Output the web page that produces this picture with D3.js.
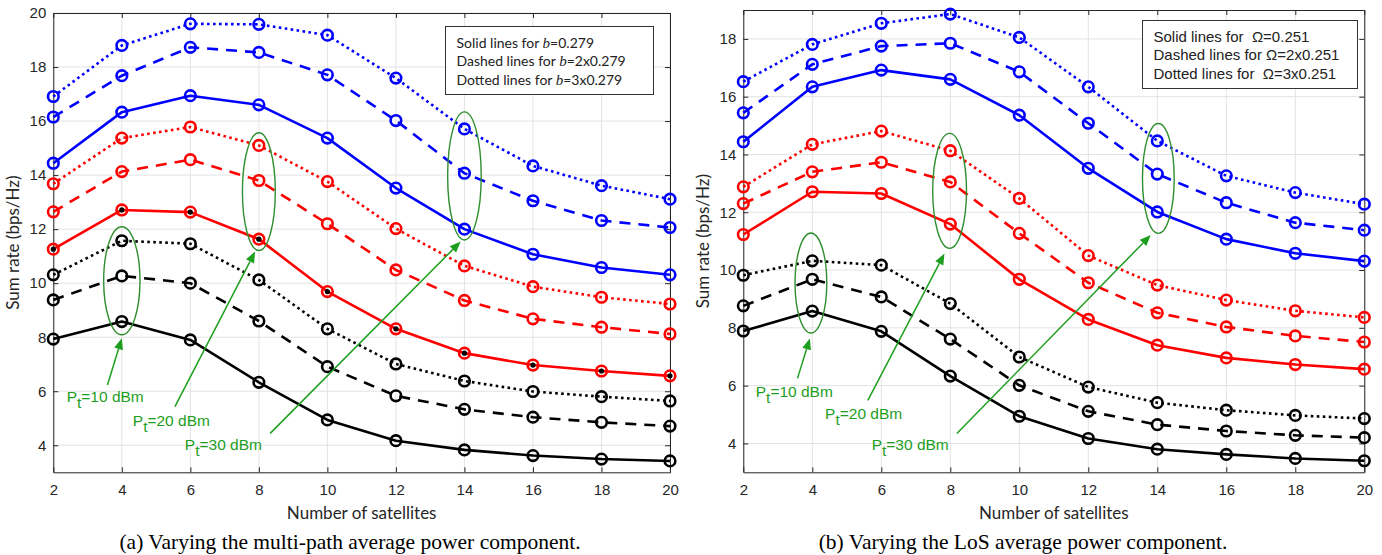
<!DOCTYPE html>
<html><head><meta charset="utf-8">
<script src="https://cdn.jsdelivr.net/npm/d3@7"></script>
<style>body{margin:0;background:#fff}svg{display:block}</style>
</head><body>
<svg id="c" width="1382" height="555"></svg>
<script>
// ---------- DATA ----------
const satellites = [2,4,6,8,10,12,14,16,18,20];
const xTicks = [2,4,6,8,10,12,14,16,18,20];
const yTicksA = [4,6,8,10,12,14,16,18,20];
const yTicksB = [4,6,8,10,12,14,16,18];

// (a) multi-path average power component b
const a_blue_dotted  = [16.91,18.80,19.60,19.58,19.18,17.59,15.71,14.34,13.61,13.11];
const a_blue_dashed  = [16.15,17.68,18.73,18.54,17.71,16.02,14.07,13.05,12.32,12.06];
const a_blue_solid   = [14.44,16.33,16.94,16.60,15.37,13.52,12.00,11.07,10.58,10.31];
const a_red_dotted   = [13.68,15.37,15.78,15.10,13.76,12.02,10.64,9.87,9.48,9.23];
const a_red_dashed   = [12.64,14.13,14.57,13.80,12.20,10.49,9.36,8.68,8.37,8.12];
const a_red_solid    = [11.26,12.71,12.63,11.63,9.69,8.31,7.41,6.97,6.75,6.57];
const a_black_dotted = [10.31,11.57,11.46,10.12,8.31,7.01,6.38,5.99,5.80,5.64];
const a_black_dashed = [9.38,10.27,10.00,8.60,6.91,5.83,5.33,5.04,4.85,4.71];
const a_black_solid  = [7.93,8.58,7.90,6.33,4.94,4.17,3.83,3.62,3.49,3.42];

// (b) LoS average power component Omega
const b_blue_dotted  = [16.52,17.81,18.54,18.86,18.05,16.34,14.47,13.26,12.68,12.28];
const b_blue_dashed  = [15.44,17.12,17.75,17.85,16.86,15.08,13.32,12.33,11.64,11.38];
const b_blue_solid   = [14.44,16.34,16.92,16.60,15.36,13.52,12.01,11.07,10.58,10.31];
const b_red_dotted   = [12.88,14.35,14.81,14.13,12.48,10.50,9.48,8.96,8.59,8.36];
const b_red_dashed   = [12.30,13.40,13.73,13.05,11.27,9.56,8.52,8.03,7.72,7.51];
const b_red_solid    = [11.23,12.71,12.65,11.59,9.68,8.29,7.40,6.96,6.73,6.57];
const b_black_dotted = [9.82,10.32,10.17,8.84,6.99,5.95,5.41,5.15,4.97,4.86];
const b_black_dashed = [8.76,9.68,9.07,7.61,6.01,5.11,4.65,4.43,4.28,4.20];
const b_black_solid  = [7.89,8.58,7.88,6.33,4.94,4.17,3.80,3.62,3.48,3.40];

const legendA = [["Solid lines for ","b","=0.279"],["Dashed lines for ","b","=2x0.279"],["Dotted lines for ","b","=3x0.279"]];
const legendB = [["Solid lines for  ","Ω","=0.251"],["Dashed lines for ","Ω","=2x0.251"],["Dotted lines for  ","Ω","=3x0.251"]];
const ptLabels = ["10","20","30"];
const captionA = "(a) Varying the multi-path average power component.";
const captionB = "(b) Varying the LoS average power component.";
const xLabel = "Number of satellites";
const yLabel = "Sum rate (bps/Hz)";

// ---------- PANELS ----------
const svg = d3.select("#c");
const green1 = "#2f8f2f", green2 = "#1e9e1e";

function series(prefix, D, redFilled){
  return [
    {v:D[prefix+"blue_dotted"], c:"#0000ff", s:"dot"},
    {v:D[prefix+"blue_dashed"], c:"#0000ff", s:"dash"},
    {v:D[prefix+"blue_solid"], c:"#0000ff", s:"solid"},
    {v:D[prefix+"red_dotted"], c:"#ff0000", s:"dot"},
    {v:D[prefix+"red_dashed"], c:"#ff0000", s:"dash"},
    {v:D[prefix+"red_solid"], c:"#ff0000", s:"solid", filled:redFilled},
    {v:D[prefix+"black_dotted"], c:"#000000", s:"dot"},
    {v:D[prefix+"black_dashed"], c:"#000000", s:"dash"},
    {v:D[prefix+"black_solid"], c:"#000000", s:"solid"}
  ];
}
const D = {a_blue_dotted,a_blue_dashed,a_blue_solid,a_red_dotted,a_red_dashed,a_red_solid,a_black_dotted,a_black_dashed,a_black_solid,
           b_blue_dotted,b_blue_dashed,b_blue_solid,b_red_dotted,b_red_dashed,b_red_solid,b_black_dotted,b_black_dashed,b_black_solid};

const panels = [
  {x0:53.3, x1:670, y0:13, y1:472.3, ymin:3, ymax:20, yt:yTicksA, ser:series("a_",D,true),
   legend:legendA, legBox:[445.5,26.5,208,68], legFont:"Lato", legSize:14, legItalic:true,
   ell:[[4,10.09,0.53,2.0],[8,13.39,0.48,2.18],[14,13.97,0.49,2.37]],
   arr:[[3.58,6.23,4.0,7.96],[5.55,5.43,7.89,11.17],[8.33,4.44,13.89,11.54]],
   lab:[[2.39,5.61],[4.32,4.73],[5.84,3.83]], caption:captionA, capX:350},
  {x0:743.3, x1:1364.3, y0:10, y1:472.3, ymin:3, ymax:19, yt:yTicksB, ser:series("b_",D,false),
   legend:legendB, legBox:[1142.5,20.5,215,68], legFont:"Liberation Sans", legSize:15, legItalic:false,
   ell:[[3.96,9.55,0.46,1.73],[7.98,12.74,0.49,1.99],[14.03,13.17,0.46,1.9]],
   arr:[[3.57,6.25,3.93,7.63],[5.61,5.49,7.83,10.57],[8.19,4.34,13.81,11.21]],
   lab:[[2.36,5.61],[4.37,4.86],[5.72,3.76]], caption:captionB, capX:1023}
];

panels.forEach((P,pi)=>{
  const x = d3.scaleLinear().domain([2,20]).range([P.x0,P.x1]);
  const y = d3.scaleLinear().domain([P.ymin,P.ymax]).range([P.y1,P.y0]);
  const g = svg.append("g");
  // grid
  g.append("g").selectAll("line").data(xTicks).join("line")
    .attr("x1",d=>x(d)).attr("x2",d=>x(d)).attr("y1",P.y0).attr("y2",P.y1)
    .attr("stroke","#e3e3e3").attr("stroke-width",1);
  g.append("g").selectAll("line").data(P.yt).join("line")
    .attr("y1",d=>y(d)).attr("y2",d=>y(d)).attr("x1",P.x0).attr("x2",P.x1)
    .attr("stroke","#e3e3e3").attr("stroke-width",1);
  // axes
  const ax = d3.axisBottom(x).tickValues(xTicks).tickSizeInner(-5).tickSizeOuter(0).tickPadding(12);
  const axT = d3.axisTop(x).tickValues(xTicks).tickSizeInner(-5).tickSizeOuter(0).tickFormat("");
  const ay = d3.axisLeft(y).tickValues(P.yt).tickSizeInner(-5).tickSizeOuter(0).tickPadding(7);
  const ayR = d3.axisRight(y).tickValues(P.yt).tickSizeInner(-5).tickSizeOuter(0).tickFormat("");
  [[ax,`translate(0,${P.y1})`],[axT,`translate(0,${P.y0})`],[ay,`translate(${P.x0},0)`],[ayR,`translate(${P.x1},0)`]].forEach(([a,t])=>{
    const gg = g.append("g").attr("transform",t).call(a);
    gg.attr("font-size",15).attr("font-family","Liberation Sans, Arial");
    gg.select(".domain").attr("stroke","#262626").attr("stroke-width",1);
    gg.selectAll(".tick line").attr("stroke","#262626");
    gg.selectAll("text").attr("fill","#262626");
  });
  // lines
  const line = d3.line().x((d,i)=>x(satellites[i])).y(d=>y(d));
  P.ser.forEach(s=>{
    const p = g.append("path").datum(s.v).attr("d",line).attr("fill","none")
      .attr("stroke",s.c).attr("stroke-width",2.6).attr("stroke-linejoin","round");
    if(s.s==="dash") p.attr("stroke-dasharray","11,8");
    if(s.s==="dot") p.attr("stroke-dasharray","2.6,3.4");
  });
  P.ser.forEach(s=>{
    g.append("g").selectAll("circle").data(s.v).join("circle")
      .attr("cx",(d,i)=>x(satellites[i])).attr("cy",d=>y(d)).attr("r",5.3)
      .attr("fill","none").attr("stroke",s.c).attr("stroke-width",2.6);
    if(s.filled){
      g.append("g").selectAll("circle").data(s.v).join("circle")
        .attr("cx",(d,i)=>x(satellites[i])).attr("cy",d=>y(d)).attr("r",2.6).attr("fill","#000");
    }
  });
  // legend
  const [lx,ly,lw,lh] = P.legBox;
  g.append("rect").attr("x",lx).attr("y",ly).attr("width",lw).attr("height",lh)
    .attr("fill","#fff").attr("stroke","#333").attr("stroke-width",1);
  P.legend.forEach((parts,i)=>{
    const t = g.append("text").attr("x",lx+11).attr("y",ly+21+i*18.5)
      .attr("font-family",P.legFont).attr("font-size",P.legSize).attr("fill","#222")
      .attr("xml:space","preserve").style("white-space","pre");
    t.append("tspan").text(parts[0]);
    const sym = t.append("tspan").text(parts[1]);
    if(P.legItalic) sym.attr("font-family","Liberation Serif, Times New Roman").attr("font-style","italic").attr("font-size",P.legSize+1);
    t.append("tspan").text(parts[2]);
  });
  // ellipses
  P.ell.forEach(e=>{
    g.append("ellipse").attr("cx",x(e[0])).attr("cy",y(e[1]))
      .attr("rx",x(e[0]+e[2])-x(e[0])).attr("ry",y(e[1]-e[3])-y(e[1]))
      .attr("fill","none").attr("stroke",green1).attr("stroke-width",1.4);
  });
  // arrows
  P.arr.forEach(a=>{
    const xa=x(a[0]), ya=y(a[1]), xb=x(a[2]), yb=y(a[3]);
    const ang = Math.atan2(yb-ya, xb-xa), L=11, W=4.5;
    const bx = xb - L*Math.cos(ang), by = yb - L*Math.sin(ang);
    g.append("line").attr("x1",xa).attr("y1",ya).attr("x2",bx).attr("y2",by)
      .attr("stroke",green2).attr("stroke-width",1.5);
    const nx = -Math.sin(ang), ny = Math.cos(ang);
    g.append("path").attr("d",`M${xb},${yb}L${bx+nx*W},${by+ny*W}L${bx-nx*W},${by-ny*W}Z`).attr("fill",green2);
  });
  // Pt labels
  P.lab.forEach((l,i)=>{
    const t = g.append("text").attr("x",x(l[0])).attr("y",y(l[1]))
      .attr("font-family","Liberation Sans, Arial").attr("font-size",15.5).attr("fill",green2);
    t.append("tspan").text("P");
    t.append("tspan").attr("dy",6).text("t");
    t.append("tspan").attr("dy",-6).text("=" + ptLabels[i] + " dBm");
  });
  // axis labels
  g.append("text").attr("x",(P.x0+P.x1)/2).attr("y",519).attr("text-anchor","middle")
    .attr("font-family","Lato").attr("font-size",17).attr("fill","#262626").text(xLabel);
  g.append("text").attr("transform",`translate(${P.x0-34},${(P.y0+P.y1)/2}) rotate(-90)`).attr("text-anchor","middle")
    .attr("font-family","Lato").attr("font-size",17).attr("fill","#262626").text(yLabel);
  // caption
  g.append("text").attr("x",P.capX).attr("y",549).attr("text-anchor","middle")
    .attr("font-family","Liberation Serif, Times New Roman").attr("font-size",21.5).attr("fill","#000").text(P.caption);
});
</script>
</body></html>
